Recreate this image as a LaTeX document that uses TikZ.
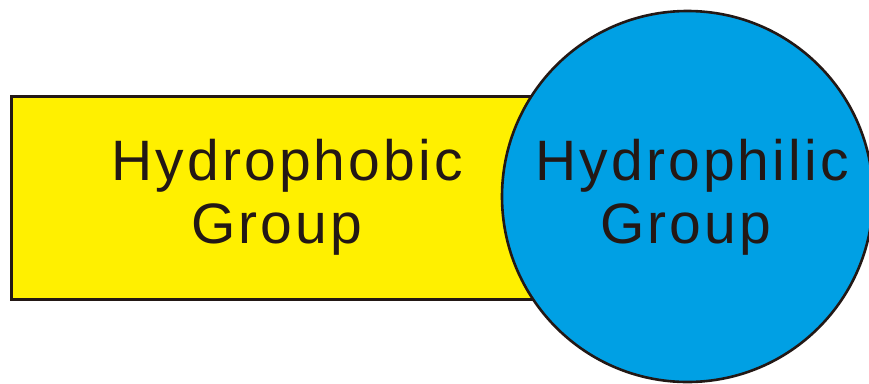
\documentclass[tikz,border=0pt]{standalone}
\usepackage{fontspec}
\setmainfont{Liberation Sans}[LetterSpace=5.5]
\definecolor{yel}{RGB}{255,240,0}
\definecolor{blu}{RGB}{0,160,228}
\definecolor{ink}{RGB}{35,24,21}
\tikzset{
  lbl/.style={anchor=base, inner sep=0pt, text=ink, font=\fontsize{57}{64}\selectfont},
  shapeline/.style={draw=ink, line width=3pt}
}
\begin{document}
\begin{tikzpicture}[x=1pt,y=-1pt]
\useasboundingbox (0,0) rectangle (869,383);
\clip (0,0) rectangle (869,383);
\node[shapeline, fill=yel, rectangle, inner sep=0pt, minimum width=534pt, minimum height=203pt] (phobe) at (278,197.5) {};
\node[shapeline, fill=blu, circle, inner sep=0pt, minimum size=371pt, line width=2.6pt] (phile) at (687.5,196.5) {};
\node[lbl] (t1) at (287,180) {Hydrophobic};
\node[lbl] (t2) at (276.5,243) {Group};
\node[lbl] (t3) at (692,180) {Hydrophilic};
\node[lbl] (t4) at (685.5,243) {Group};
\end{tikzpicture}
\end{document}
